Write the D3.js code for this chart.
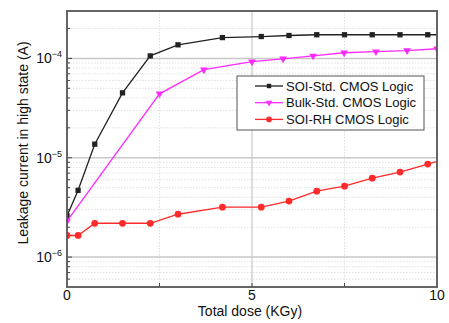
<!DOCTYPE html>
<html><head><meta charset="utf-8">
<script src="https://cdn.jsdelivr.net/npm/d3@7"></script>
<style>body{margin:0;background:#fff;}svg{display:block;font-family:"Liberation Sans",Arial,sans-serif;}</style>
</head><body><svg id="c" width="449" height="323"></svg>
<script>
const soiStdX = [0, 0.3, 0.75, 1.5, 2.25, 3.0, 4.2, 5.25, 6.0, 6.75, 7.5, 8.25, 9.0, 9.75, 10.5];
const soiStdY = [2.6e-6, 4.7e-6, 1.37e-5, 4.5e-5, 1.06e-4, 1.37e-4, 1.62e-4, 1.66e-4, 1.7e-4, 1.73e-4, 1.73e-4, 1.73e-4, 1.73e-4, 1.73e-4, 1.73e-4];
const bulkStdX = [0, 2.5, 3.7, 5.0, 5.84, 6.65, 7.49, 8.35, 9.19, 10.0];
const bulkStdY = [2.3e-6, 4.4e-5, 7.7e-5, 9.26e-5, 9.9e-5, 1.06e-4, 1.14e-4, 1.17e-4, 1.2e-4, 1.25e-4];
const soiRhX = [0, 0.3, 0.75, 1.5, 2.25, 3.0, 4.2, 5.25, 6.0, 6.75, 7.5, 8.25, 9.0, 9.75, 10.5];
const soiRhY = [1.65e-6, 1.65e-6, 2.19e-6, 2.19e-6, 2.19e-6, 2.7e-6, 3.18e-6, 3.18e-6, 3.66e-6, 4.61e-6, 5.18e-6, 6.23e-6, 7.17e-6, 8.63e-6, 1.04e-5];
const seriesNames = ["SOI-Std. CMOS Logic", "Bulk-Std. CMOS Logic", "SOI-RH CMOS Logic"];
const xTicks = [0, 5, 10];
const yTicks = [1e-6, 1e-5, 1e-4];
const xLabel = "Total dose (KGy)";
const yLabel = "Leakage current in high state (A)";

const svg = d3.select("#c");
const L = 67, R = 437, T = 11, B = 287;
const x = d3.scaleLinear().domain([0, 10]).range([L, R]);
const y = d3.scaleLog().domain([5e-7, 3e-4]).range([B, T]);

svg.append("defs").append("clipPath").attr("id", "clip")
  .append("rect").attr("x", L).attr("y", T).attr("width", R - L).attr("height", B - T);

// minor gridlines (horizontal)
const minorY = [];
for (let e = -7; e <= -4; e++) for (let m = 2; m <= 9; m++) {
  const v = m * Math.pow(10, e);
  if (v > 5e-7 && v < 3e-4) minorY.push(v);
}
const grid = svg.append("g");
grid.selectAll(".mg").data(minorY).join("line")
  .attr("x1", L).attr("x2", R).attr("y1", d => y(d)).attr("y2", d => y(d))
  .attr("stroke", "#d8d8d8").attr("stroke-width", 0.8).attr("stroke-dasharray", "1.5,1.5");
grid.selectAll(".mx").data([2.5, 7.5]).join("line")
  .attr("y1", T).attr("y2", B).attr("x1", d => x(d)).attr("x2", d => x(d))
  .attr("stroke", "#d8d8d8").attr("stroke-width", 0.8).attr("stroke-dasharray", "1.5,1.5");
grid.selectAll(".My").data(yTicks).join("line")
  .attr("x1", L).attr("x2", R).attr("y1", d => y(d)).attr("y2", d => y(d))
  .attr("stroke", "#c8c8c8").attr("stroke-width", 1.5);
grid.selectAll(".Mx").data([5]).join("line")
  .attr("y1", T).attr("y2", B).attr("x1", d => x(d)).attr("x2", d => x(d))
  .attr("stroke", "#c8c8c8").attr("stroke-width", 1.2);

// ticks (inward)
const tk = svg.append("g").attr("stroke", "#444").attr("stroke-width", 1);
tk.selectAll(".ym").data(minorY).join("line")
  .attr("x1", L).attr("x2", L + 3).attr("y1", d => y(d)).attr("y2", d => y(d));
tk.selectAll(".yM").data(yTicks).join("line")
  .attr("x1", L).attr("x2", L + 5).attr("y1", d => y(d)).attr("y2", d => y(d));
tk.selectAll(".xM").data([2.5, 5, 7.5]).join("line")
  .attr("x1", d => x(d)).attr("x2", d => x(d)).attr("y1", B).attr("y2", B - 4);

// series
const series = [
  {xs: soiStdX, ys: soiStdY, color: "#222222", shape: d3.symbolSquare, size: 28, rot: 0},
  {xs: bulkStdX, ys: bulkStdY, color: "#ff2bff", shape: d3.symbolTriangle, size: 26, rot: 180},
  {xs: soiRhX, ys: soiRhY, color: "#ff2a2a", shape: d3.symbolCircle, size: 36, rot: 0}
];
const plot = svg.append("g").attr("clip-path", "url(#clip)");
const line = d3.line().x(d => x(d[0])).y(d => y(d[1]));
series.forEach(s => {
  const pts = s.xs.map((v, i) => [v, s.ys[i]]);
  plot.append("path").datum(pts).attr("d", line).attr("fill", "none")
    .attr("stroke", s.color).attr("stroke-width", 1.3);
  plot.selectAll(null).data(pts).join("path")
    .attr("d", d3.symbol().type(s.shape).size(s.size))
    .attr("transform", d => `translate(${x(d[0])},${y(d[1])}) rotate(${s.rot})`)
    .attr("fill", s.color);
});

// frame
svg.append("rect").attr("x", L).attr("y", T).attr("width", R - L).attr("height", B - T)
  .attr("fill", "none").attr("stroke", "#555").attr("stroke-width", 1.8);

// tick labels
svg.selectAll(".xl").data(xTicks).join("text")
  .attr("x", d => x(d)).attr("y", 300).attr("text-anchor", "middle")
  .attr("font-size", 14).attr("fill", "#111").text(d => d);
const yl = svg.selectAll(".yl").data(yTicks).join("text")
  .attr("x", 62).attr("y", d => y(d) + 5).attr("text-anchor", "end")
  .attr("font-size", 14).attr("fill", "#111");
yl.append("tspan").text("10");
yl.append("tspan").attr("font-size", 9).attr("dy", -6).text(d => "\u2212" + Math.round(-Math.log10(d)));

// axis titles
svg.append("text").attr("x", (L + R) / 2 - 2).attr("y", 316).attr("text-anchor", "middle")
  .attr("font-size", 14).attr("fill", "#111").text(xLabel);
svg.append("text").attr("transform", `translate(28,${(T + B) / 2 - 6}) rotate(-90)`)
  .attr("text-anchor", "middle").attr("font-size", 14).attr("fill", "#111").text(yLabel);

// legend
const lg = svg.append("g");
lg.append("rect").attr("x", 237).attr("y", 76).attr("width", 187).attr("height", 54)
  .attr("fill", "#fff").attr("stroke", "#555").attr("stroke-width", 1);
series.forEach((s, i) => {
  const cy = 86 + i * 16.7;
  lg.append("line").attr("x1", 255).attr("x2", 283).attr("y1", cy).attr("y2", cy)
    .attr("stroke", s.color).attr("stroke-width", 1.3);
  lg.append("path").attr("d", d3.symbol().type(s.shape).size(s.size * 0.7))
    .attr("transform", `translate(269,${cy}) rotate(${s.rot})`).attr("fill", s.color);
  lg.append("text").attr("x", 286).attr("y", cy + 4.5).attr("font-size", 13)
    .attr("fill", "#111").text(seriesNames[i]);
});
</script></body></html>
